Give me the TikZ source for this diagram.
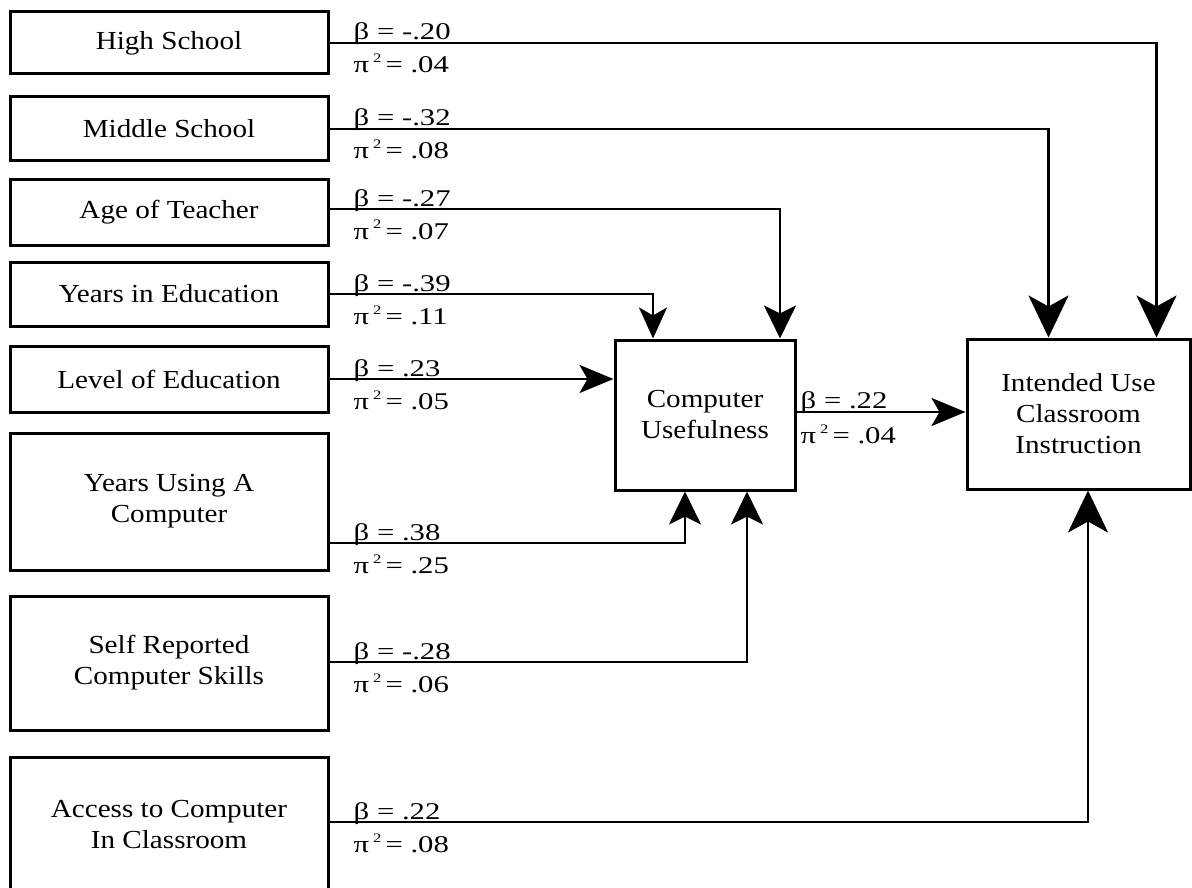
\documentclass[tikz,border=0pt]{standalone}
\usepackage{fontspec}
\setmainfont{Liberation Serif}[FakeStretch=1.12]
\newfontfamily\labfont{Liberation Serif}[FakeStretch=1.28]
\usetikzlibrary{arrows.meta}
\newcommand{\sqtwo}{\,{\fontsize{13}{13}\selectfont\raisebox{10pt}{2}}\,}
\begin{document}
\begin{tikzpicture}[x=1pt,y=-1pt,
  box/.style={draw, line width=3pt, inner sep=0pt, align=center,
    font=\fontsize{26}{31}\selectfont},
  lbox/.style={box, minimum width=318pt},
  conn/.style={line width=2.8pt},
  bigtip/.style={-{Stealth[length=42pt,width=40pt,inset=11pt]}},
  midtip/.style={-{Stealth[length=33pt,width=32pt,inset=8pt]}},
  smalltip/.style={-{Stealth[length=31pt,width=28pt,inset=8pt]}},
  sidetip/.style={-{Stealth[length=34pt,width=28pt,inset=8pt]}},
  lab/.style={font=\labfont\fontsize{24}{24}\selectfont, inner sep=0pt, anchor=base west}]

\useasboundingbox (0,0) rectangle (1192,888);
\clip (0,0) rectangle (1192,888);

% left boxes
\node[lbox, minimum height=62pt]  (hs)  at (169,43)    {High School};
\node[lbox, minimum height=64pt]  (ms)  at (169,129)   {Middle School};
\node[lbox, minimum height=65pt]  (age) at (169,212.5) {Age of Teacher};
\node[lbox, minimum height=64pt]  (yie) at (169,294)   {Years in Education};
\node[lbox, minimum height=66pt]  (loe) at (169,379)   {Level of Education};
\node[lbox, minimum height=137pt] (yuc) at (169,501.5) {Years Using A\\Computer};
\node[lbox, minimum height=134pt] (srs) at (169,663)   {Self Reported\\Computer Skills};
\node[lbox, minimum height=136pt] (acc) at (169,825)   {Access to Computer\\In Classroom};

% central boxes
\node[box, minimum width=180pt, minimum height=150pt] (cu)  at (705,415)    {Computer\\Usefulness};
\node[box, minimum width=223pt, minimum height=150pt] (int) at (1078.5,414) {Intended Use\\Classroom\\Instruction};

\coordinate (cuo) at ([yshift=3pt]cu.east);

% connectors
\draw[conn,bigtip]   (hs.east) -| ([xshift=78pt]int.north);
\draw[conn,bigtip]   (ms.east) -| ([xshift=-30pt]int.north);
\draw[conn,midtip]   ([yshift=3.5pt]age.east) -| ([xshift=75pt]cu.north);
\draw[conn,smalltip] (yie.east) -| ([xshift=-52pt]cu.north);
\draw[conn,sidetip]  (loe.east) -- (loe.east -| cu.west);
\draw[conn,midtip]   ([yshift=-41.5pt]yuc.east) -| ([xshift=-20pt]cu.south);
\draw[conn,midtip]   ([yshift=1pt]srs.east) -| ([xshift=42pt]cu.south);
\draw[conn,bigtip]   ([yshift=3pt]acc.east) -| ([xshift=9.5pt]int.south);
\draw[conn,sidetip]  (cuo) -- (cuo -| int.west);

% labels
\node[lab] (b1) at ([xshift=24pt,yshift=3pt]hs.east)  {β = -.20};
\node[lab] (p1) at ([xshift=24pt,yshift=-30pt]hs.east) {π\sqtwo= .04};
\node[lab] (b2) at ([xshift=24pt,yshift=3pt]ms.east)  {β = -.32};
\node[lab] (p2) at ([xshift=24pt,yshift=-30pt]ms.east) {π\sqtwo= .08};
\node[lab] (b3) at ([xshift=24pt,yshift=6.5pt]age.east)  {β = -.27};
\node[lab] (p3) at ([xshift=24pt,yshift=-26.5pt]age.east) {π\sqtwo= .07};
\node[lab] (b4) at ([xshift=24pt,yshift=3pt]yie.east)  {β = -.39};
\node[lab] (p4) at ([xshift=24pt,yshift=-30pt]yie.east) {π\sqtwo= .11};
\node[lab] (b5) at ([xshift=24pt,yshift=3pt]loe.east)  {β = .23};
\node[lab] (p5) at ([xshift=24pt,yshift=-30pt]loe.east) {π\sqtwo= .05};
\node[lab] (b6) at ([xshift=24pt,yshift=-38.5pt]yuc.east)  {β = .38};
\node[lab] (p6) at ([xshift=24pt,yshift=-71.5pt]yuc.east) {π\sqtwo= .25};
\node[lab] (b7) at ([xshift=24pt,yshift=4pt]srs.east)  {β = -.28};
\node[lab] (p7) at ([xshift=24pt,yshift=-29pt]srs.east) {π\sqtwo= .06};
\node[lab] (b8) at ([xshift=24pt,yshift=6pt]acc.east)  {β = .22};
\node[lab] (p8) at ([xshift=24pt,yshift=-27pt]acc.east) {π\sqtwo= .08};
\node[lab] (b9) at ([xshift=4pt,yshift=7pt]cu.east)  {β = .22};
\node[lab] (p9) at ([xshift=4pt,yshift=-28pt]cu.east) {π\sqtwo= .04};
\end{tikzpicture}
\end{document}
